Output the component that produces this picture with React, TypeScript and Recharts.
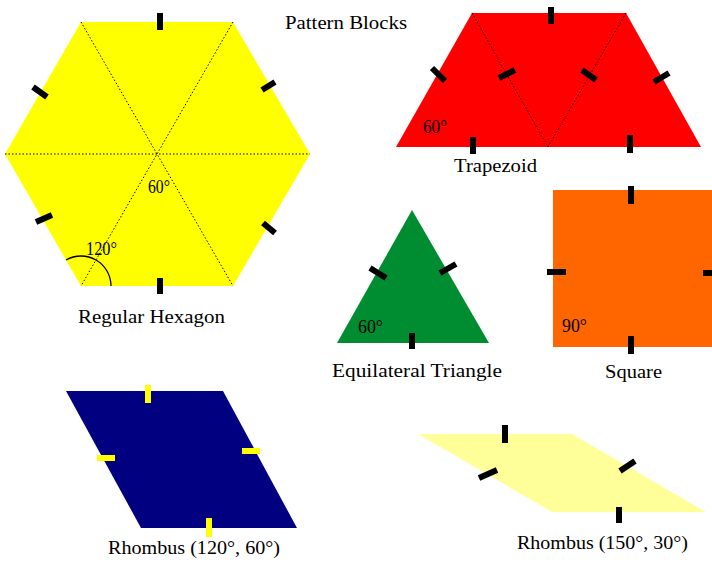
import React from 'react';
import { ComposedChart, Area, Scatter, XAxis, YAxis, ReferenceLine, ReferenceDot } from 'recharts';

// each block is a range area: at every x, [top, bottom] of the shape
const hexagon = [
  { x: 5, v: [154, 154] },
  { x: 81, v: [22, 286] },
  { x: 233, v: [22, 286] },
  { x: 310, v: [154, 154] },
];
const trapezoid = [
  { x: 396, v: [147, 147] },
  { x: 472, v: [13, 147] },
  { x: 626, v: [13, 147] },
  { x: 701, v: [147, 147] },
];
const triangle = [
  { x: 337, v: [343, 343] },
  { x: 412, v: [210, 343] },
  { x: 489, v: [343, 343] },
];
const square = [
  { x: 553, v: [190, 347] },
  { x: 712, v: [190, 347] },
];
const rhombusWide = [
  { x: 66, v: [391, 391] },
  { x: 141, v: [391, 528] },
  { x: 223, v: [391, 528] },
  { x: 297, v: [528, 528] },
];
const rhombusThin = [
  { x: 418, v: [434, 434] },
  { x: 552, v: [434, 512] },
  { x: 572, v: [434, 512] },
  { x: 706, v: [512, 512] },
];

// dotted lines splitting hexagon and trapezoid into triangles
const dottedLines = [
  [[5, 154], [310, 154]],
  [[81, 22], [233, 286]],
  [[233, 22], [81, 286]],
  [[472, 13], [548, 147]],
  [[626, 13], [548, 147]],
];

// edge markers
const blackTicks = [
  [[160, 13], [160, 30]],
  [[160, 278], [160, 294]],
  [[33, 87], [47, 97]],
  [[262, 90], [275, 82]],
  [[36, 222], [52, 215]],
  [[263, 223], [275, 233]],
  [[551, 7], [551, 24]],
  [[473, 137], [473, 154]],
  [[630, 135], [630, 153]],
  [[432, 68], [445, 81]],
  [[499, 78], [515, 70]],
  [[582, 70], [596, 80]],
  [[654, 82], [669, 73]],
  [[370, 268], [386, 278]],
  [[440, 273], [456, 264]],
  [[412, 333], [412, 349]],
  [[631, 186], [631, 204]],
  [[631, 336], [631, 354]],
  [[547, 272], [566, 272]],
  [[703, 273], [712, 273]],
  [[505, 425], [505, 443]],
  [[619, 507], [619, 523]],
  [[479, 478], [497, 470]],
  [[620, 471], [635, 461]],
];
const yellowTicks = [
  [[148, 385], [148, 403]],
  [[209, 518], [209, 537]],
  [[97, 458], [115, 458]],
  [[242, 451], [260, 451]],
];

// text: left x, baseline y
const labels = [
  { x: 285, y: 29, text: 'Pattern Blocks' },
  { x: 78, y: 323, text: 'Regular Hexagon' },
  { x: 454, y: 172, text: 'Trapezoid' },
  { x: 332, y: 377, text: 'Equilateral Triangle' },
  { x: 605, y: 378, text: 'Square' },
  { x: 108, y: 554, text: 'Rhombus (120°, 60°)' },
  { x: 517, y: 549, text: 'Rhombus (150°, 30°)' },
  { x: 86, y: 255, text: '120°' },
  { x: 148, y: 193, text: '60°' },
  { x: 423, y: 133, text: '60°' },
  { x: 358, y: 333, text: '60°' },
  { x: 562, y: 332, text: '90°' },
];
const labelWidths = [122, 147, 83, 170, 57, 172, 171, 31, 22, 24, 25, 25];

const blocks = [
  { data: hexagon, color: '#FFFF00' },
  { data: trapezoid, color: '#FF0000' },
  { data: triangle, color: '#008C30' },
  { data: square, color: '#FF6600' },
  { data: rhombusWide, color: '#000080' },
  { data: rhombusThin, color: '#FFFF99' },
];

const LabelText = (props: any) => {
  const { cx, cy, payload, index } = props;
  return (
    <text x={cx} y={cy} fontFamily="'Liberation Serif', serif" fontSize={19} fill="#000"
      textLength={labelWidths[index]} lengthAdjust="spacingAndGlyphs">
      {payload.text}
    </text>
  );
};

// 120° arc at the lower-left corner of the hexagon
const AngleArc = (props: any) => {
  const { cx, cy } = props;
  const r = 30;
  const sx = cx + r * Math.cos((2 * Math.PI) / 3);
  const sy = cy - r * Math.sin((2 * Math.PI) / 3);
  return <path d={`M ${sx} ${sy} A ${r} ${r} 0 0 1 ${cx + r} ${cy}`} fill="none" stroke="#000" strokeWidth={1.3} />;
};

const App: React.FC = () => {
  return (
    <div style={{ position: 'absolute', left: 0, top: 0, width: 712, height: 563, background: '#fff' }}>
      <ComposedChart width={712} height={563} margin={{ top: 0, right: 0, bottom: 0, left: 0 }}>
        <XAxis type="number" dataKey="x" domain={[0, 712]} hide allowDataOverflow />
        <YAxis type="number" domain={[0, 563]} reversed hide allowDataOverflow />
        {blocks.map((b, i) => (
          <Area
            key={`block-${i}`}
            data={b.data}
            dataKey="v"
            type="linear"
            stroke="none"
            fill={b.color}
            fillOpacity={1}
            dot={false}
            activeDot={false}
            isAnimationActive={false}
          />
        ))}
        {dottedLines.map((s, i) => (
          <ReferenceLine
            key={`dot-${i}`}
            segment={[{ x: s[0][0], y: s[0][1] }, { x: s[1][0], y: s[1][1] }]}
            stroke="#000"
            strokeWidth={1}
            strokeDasharray="1.5 2"
          />
        ))}
        {blackTicks.map((s, i) => (
          <ReferenceLine
            key={`tick-${i}`}
            segment={[{ x: s[0][0], y: s[0][1] }, { x: s[1][0], y: s[1][1] }]}
            stroke="#000"
            strokeWidth={6}
          />
        ))}
        {yellowTicks.map((s, i) => (
          <ReferenceLine
            key={`ytick-${i}`}
            segment={[{ x: s[0][0], y: s[0][1] }, { x: s[1][0], y: s[1][1] }]}
            stroke="#FFFF00"
            strokeWidth={6}
          />
        ))}
        <ReferenceDot x={81} y={286} r={0} shape={AngleArc} />
        <Scatter data={labels} dataKey="y" shape={LabelText} isAnimationActive={false} />
      </ComposedChart>
    </div>
  );
};

export default App;
